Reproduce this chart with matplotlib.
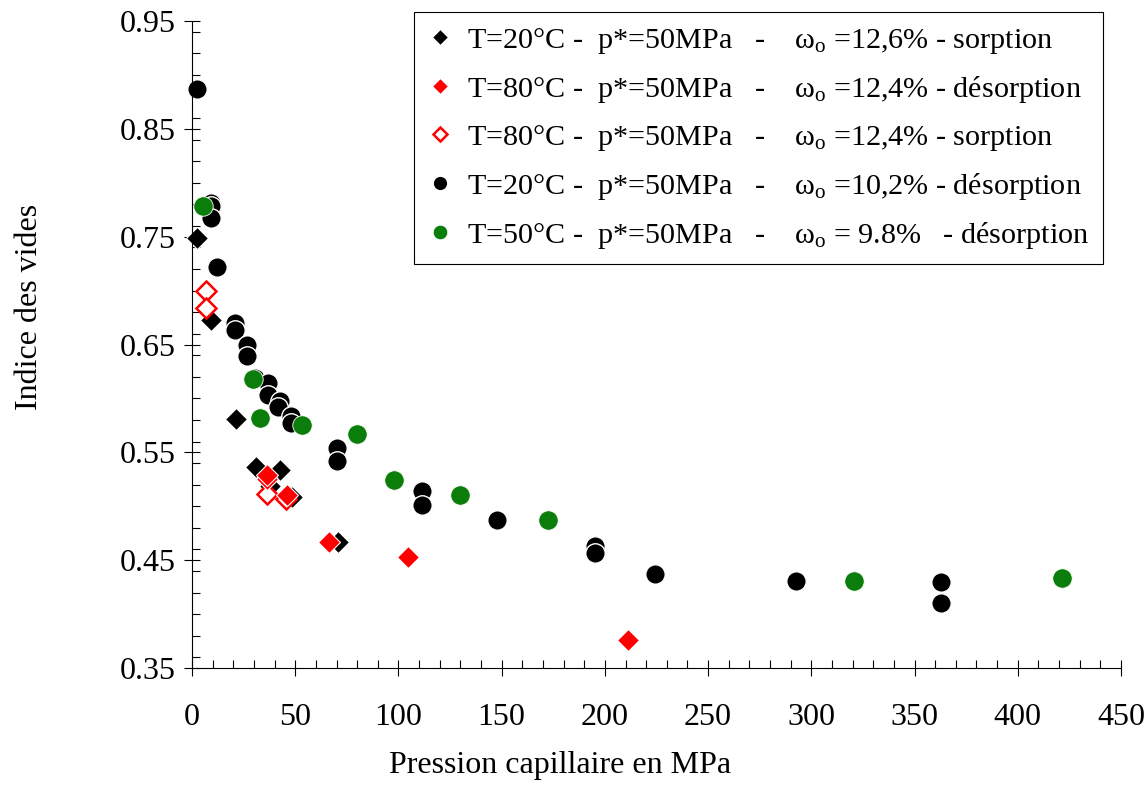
import numpy as np
import matplotlib
matplotlib.use('Agg')
import matplotlib.pyplot as plt
from matplotlib.ticker import MultipleLocator

plt.rcParams['font.family'] = ['Liberation Serif', 'DejaVu Serif']

# T=20°C sorption (black diamonds)
x_d20 = [2.4, 9.2, 21.3, 31.0, 42.6, 37.8, 48.4, 70.7]
y_d20 = [0.749, 0.673, 0.581, 0.536, 0.534, 0.519, 0.509, 0.467]

# T=80°C desorption (red filled diamonds)
x_d80 = [36.3, 36.3, 46.0, 66.4, 104.7, 211.2]
y_d80 = [0.525, 0.529, 0.510, 0.467, 0.453, 0.376]

# T=80°C sorption (red open diamonds)
x_o80 = [6.8, 6.8, 36.3, 45.5]
y_o80 = [0.700, 0.684, 0.511, 0.507]

# T=20°C desorption (black circles)
x_c20 = [2.4, 9.2, 9.2, 9.2, 12.1, 20.8, 20.8, 26.6, 26.6, 30.5, 36.8, 36.8,
         42.6, 41.7, 48.0, 48.0, 70.3, 70.3, 111.4, 111.4, 147.8, 195.3, 195.3,
         224.3, 292.6, 362.9, 362.9]
y_c20 = [0.887, 0.781, 0.778, 0.767, 0.722, 0.670, 0.663, 0.650, 0.639, 0.619,
         0.614, 0.603, 0.598, 0.592, 0.584, 0.577, 0.554, 0.542, 0.514, 0.501,
         0.487, 0.463, 0.457, 0.437, 0.431, 0.430, 0.410]

# T=50°C desorption (green circles)
x_c50 = [5.3, 29.6, 32.9, 53.3, 79.9, 97.9, 129.8, 172.5, 320.7, 421.5]
y_c50 = [0.778, 0.618, 0.582, 0.575, 0.567, 0.524, 0.510, 0.487, 0.431, 0.433]

labels = [
    'T=20°C -  p*=50MPa   -    $\\mathregular{ω_o}$ =12,6% - sorption',
    'T=80°C -  p*=50MPa   -    $\\mathregular{ω_o}$ =12,4% - désorption',
    'T=80°C -  p*=50MPa   -    $\\mathregular{ω_o}$ =12,4% - sorption',
    'T=20°C -  p*=50MPa   -    $\\mathregular{ω_o}$ =10,2% - désorption',
    'T=50°C -  p*=50MPa   -    $\\mathregular{ω_o}$ = 9.8%   - désorption',
]

fig = plt.figure(figsize=(11.46, 8.09), dpi=100)
ax = fig.add_axes([192/1146, 1-668/809, (1121-192)/1146, (668-21)/809])

green = '#0a7d0a'
h4, = ax.plot(x_c20, y_c20, 'o', color='black', ms=14, mec='white', mew=1, ls='none', clip_on=False)
h5, = ax.plot(x_c50, y_c50, 'o', color=green, ms=14, mec='white', mew=0.6, ls='none', clip_on=False)
h1, = ax.plot(x_d20, y_d20, 'D', color='black', ms=11, mec='white', mew=0.8, ls='none', clip_on=False)
h3, = ax.plot(x_o80, y_o80, 'D', mfc='white', mec='red', ms=10, mew=1.8, ls='none', clip_on=False)
h2, = ax.plot(x_d80, y_d80, 'D', color='red', ms=11, mec='white', mew=0.8, ls='none', clip_on=False)

ax.set_xlim(0, 450)
ax.set_ylim(0.35, 0.95)
ax.xaxis.set_major_locator(MultipleLocator(50))
ax.xaxis.set_minor_locator(MultipleLocator(10))
ax.yaxis.set_minor_locator(MultipleLocator(0.02))
ax.set_yticks(np.arange(0.35, 0.951, 0.1))
ax.set_yticklabels(['0.35', '0.45', '0.55', '0.65', '0.75', '0.85', '0.95'])
ax.spines['top'].set_visible(False)
ax.spines['right'].set_visible(False)
for s in ['left', 'bottom']:
    ax.spines[s].set_linewidth(0.8)
ax.tick_params(axis='both', which='major', direction='inout', length=12, width=0.8, labelsize=23)
ax.tick_params(axis='both', which='minor', direction='in', length=6, width=0.8)
ax.tick_params(axis='x', which='major', pad=19)
ax.tick_params(axis='y', which='major', pad=6)

fig.text(30/1146, 1-307/809, 'Indice des vides', rotation=90, ha='center', va='center', fontsize=23)
fig.text(560/1146, 1-765/809, 'Pression capillaire en MPa', ha='center', va='center', fontsize=23)

leg = fig.legend([h1, h2, h3, h4, h5], labels, loc='upper left',
                 bbox_to_anchor=(414/1146, 1-12/809), borderaxespad=0, fontsize=21.7,
                 markerscale=0.75, handletextpad=0.5, handlelength=0.8,
                 labelspacing=0.6, borderpad=0.45, fancybox=False, framealpha=1)
leg.get_frame().set_edgecolor('black')
leg.get_frame().set_linewidth(0.8)

fig.savefig('out.png', dpi=100)
